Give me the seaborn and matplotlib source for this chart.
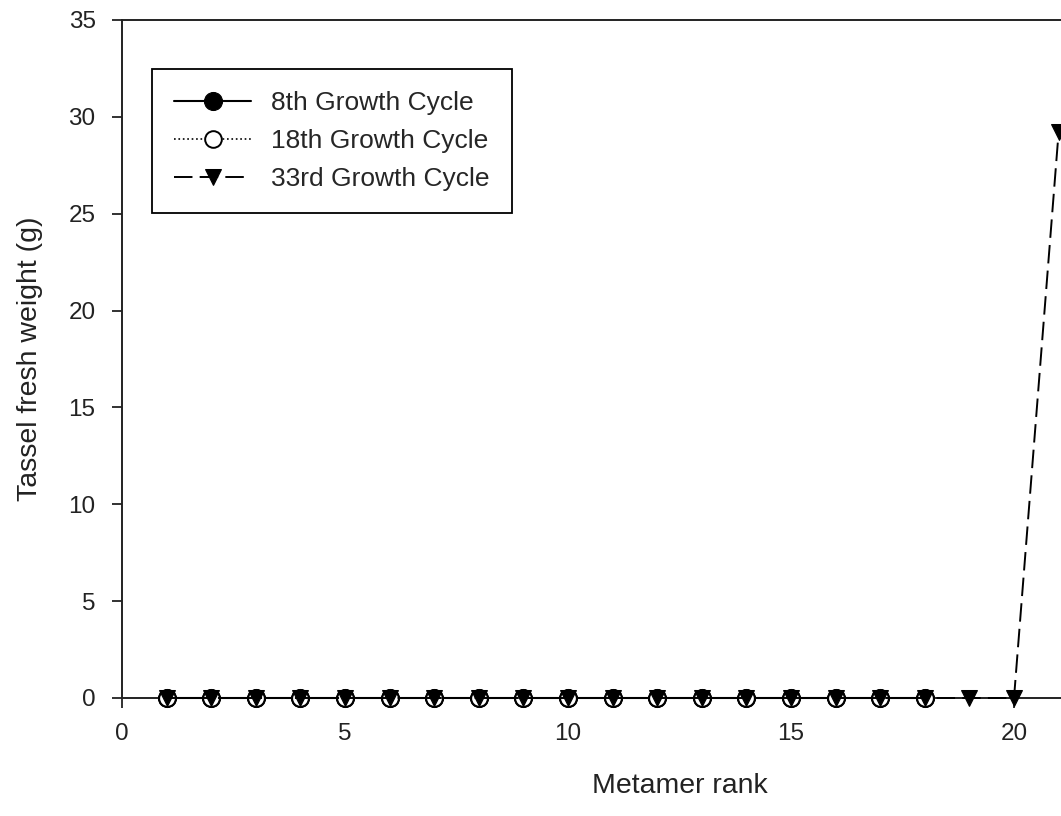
import numpy as np
import pandas as pd
import matplotlib
matplotlib.use("Agg")
import matplotlib.pyplot as plt
import seaborn as sns

# ===== DATA =====
rank_8 = [1, 2, 3, 4, 5, 6, 7, 8, 9, 10, 11, 12, 13, 14, 15, 16, 17, 18]
weight_8 = [0] * 18
rank_18 = [1, 2, 3, 4, 5, 6, 7, 8, 9, 10, 11, 12, 13, 14, 15, 16, 17, 18]
weight_18 = [0] * 18
rank_33 = [1, 2, 3, 4, 5, 6, 7, 8, 9, 10, 11, 12, 13, 14, 15, 16, 17, 18, 19, 20, 21]
weight_33 = [0] * 20 + [29.2]

labels = ["8th Growth Cycle", "18th Growth Cycle", "33rd Growth Cycle"]

sns.set_style("ticks")
plt.rcParams['font.family'] = ['Liberation Sans', 'DejaVu Sans']

fig = plt.figure(figsize=(10.61, 8.16), dpi=100)
# axes run past the right edge (the original figure is cropped there)
ax = fig.add_axes([122 / 1061, 118 / 816, 1115 / 1061, 678 / 816])

df8 = pd.DataFrame({"x": rank_8, "y": weight_8})
df18 = pd.DataFrame({"x": rank_18, "y": weight_18})
df33 = pd.DataFrame({"x": rank_33, "y": weight_33})

sns.lineplot(data=df8, x="x", y="y", ax=ax, color="black", linestyle="-", lw=1.5,
             marker="o", markersize=13, markerfacecolor="black", markeredgecolor="black",
             label=labels[0], clip_on=False, zorder=3)
sns.lineplot(data=df18, x="x", y="y", ax=ax, color="black", linestyle=":", lw=1.2,
             marker="o", markersize=9.5, markerfacecolor="none", markeredgecolor="white",
             markeredgewidth=0.7, label=labels[1], clip_on=False, zorder=4)
sns.lineplot(data=df33, x="x", y="y", ax=ax, color="black", linestyle=(0, (9.5, 3.7)), lw=1.4,
             marker="v", markersize=11, markerfacecolor="black", markeredgecolor="black",
             label=labels[2], clip_on=False, zorder=5)

ax.set_xlim(0, 25)
ax.set_ylim(0, 35)
ax.set_xticks([0, 5, 10, 15, 20])
ax.set_yticks([0, 5, 10, 15, 20, 25, 30, 35])
ax.tick_params(axis="both", direction="out", length=7, width=1.3, labelsize=17.5,
               color="#222222", labelcolor="#222222")
ax.tick_params(axis="x", pad=11)
ax.tick_params(axis="y", pad=12)
for s in ax.spines.values():
    s.set_linewidth(1.4)
    s.set_color("#222222")

ax.set_xlabel("Metamer rank", fontsize=20.5, labelpad=20, color="#222222")
ax.set_ylabel("Tassel fresh weight (g)", fontsize=20.5, labelpad=18, color="#222222")

# legend: open-circle handle drawn like the original (white face, black edge)
handles, _ = ax.get_legend_handles_labels()
handles[1].set_markerfacecolor("white")
handles[1].set_markeredgecolor("black")
handles[1].set_markeredgewidth(1.4)
handles[1].set_markersize(12)
leg = ax.legend(handles, labels, loc="upper left", bbox_to_anchor=(30 / 1115, 1 - 49 / 678),
                fontsize=19, frameon=True, fancybox=False, handlelength=2.9,
                borderpad=0.85, labelspacing=0.52, handletextpad=0.75, borderaxespad=0)
leg.get_frame().set_edgecolor("black")
leg.get_frame().set_linewidth(1.3)
leg.get_frame().set_alpha(1)

fig.savefig("out.png", dpi=100)
